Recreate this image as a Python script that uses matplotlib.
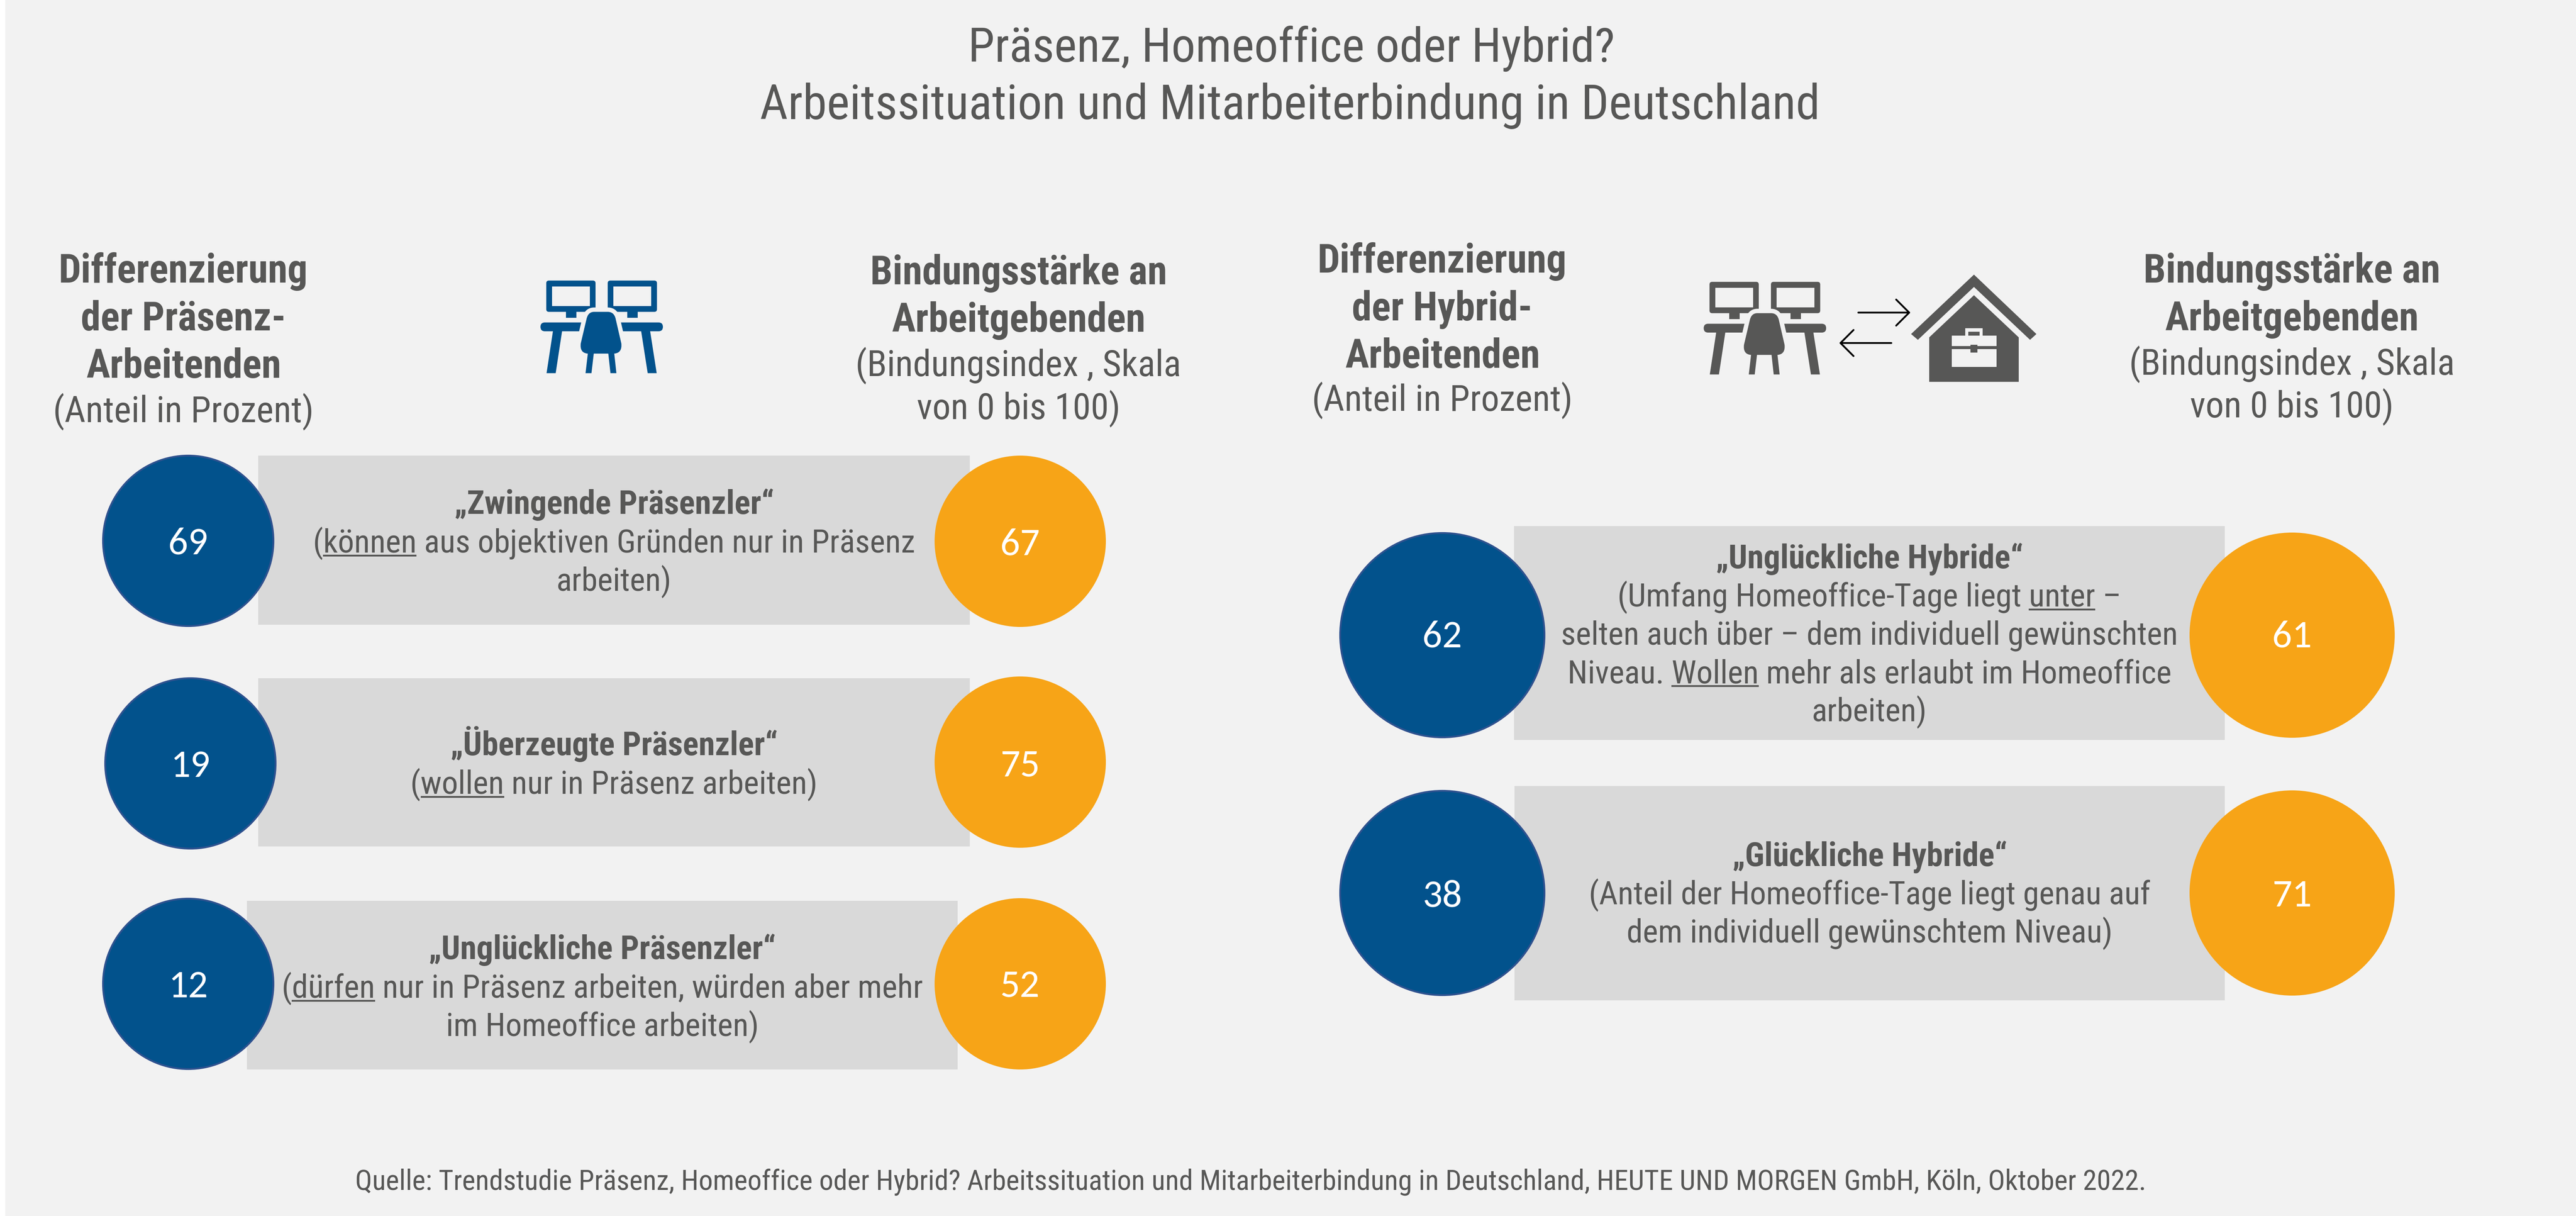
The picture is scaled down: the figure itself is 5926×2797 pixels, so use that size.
import matplotlib
matplotlib.use('Agg')
import matplotlib.pyplot as plt
from matplotlib.patches import Rectangle, Circle, Polygon, FancyBboxPatch, PathPatch
from matplotlib.path import Path

# chart values
left_shares = [69, 19, 12]
left_bonds = [67, 75, 52]
right_shares = [62, 38]
right_bonds = [61, 71]

title_lines = ["Präsenz, Homeoffice oder Hybrid?",
               "Arbeitssituation und Mitarbeiterbindung in Deutschland"]
source = ("Quelle: Trendstudie Präsenz, Homeoffice oder Hybrid? Arbeitssituation und Mitarbeiterbindung "
          "in Deutschland, HEUTE UND MORGEN GmbH, Köln, Oktober 2022.")

left_names = ["„Zwingende Präsenzler“", "„Überzeugte Präsenzler“", "„Unglückliche Präsenzler“"]
left_notes = [[("(können aus objektiven Gründen nur in Präsenz", "können"), ("arbeiten)", None)],
              [("(wollen nur in Präsenz arbeiten)", "wollen")],
              [("(dürfen nur in Präsenz arbeiten, würden aber mehr", "dürfen"), ("im Homeoffice arbeiten)", None)]]
right_names = ["„Unglückliche Hybride“", "„Glückliche Hybride“"]
right_notes = [[("(Umfang Homeoffice-Tage liegt unter –", "unter"),
                ("selten auch über – dem individuell gewünschten", None),
                ("Niveau. Wollen mehr als erlaubt im Homeoffice", "Wollen"),
                ("arbeiten)", None)],
               [("(Anteil der Homeoffice-Tage liegt genau auf", None),
                ("dem individuell gewünschtem Niveau)", None)]]

BG = '#f2f2f2'
BLUE = '#02528c'
ORANGE = '#f7a417'
BOX = '#d9d9d9'
TEXT = '#575756'
COND = ['Roboto Condensed', 'Liberation Sans Narrow', 'DejaVu Sans']
NUM = ['Carlito', 'Liberation Sans Narrow', 'DejaVu Sans']

W, H = 5926, 2797
fig = plt.figure(figsize=(W / 100, H / 100), dpi=100, facecolor='white')
ax = fig.add_axes([0, 0, 1, 1])
ax.set_xlim(0, W)
ax.set_ylim(H, 0)
ax.axis('off')
ax.add_patch(Rectangle((12, 0), W - 12, H, fc=BG, ec='none'))


def put(x, y, s, px, weight='normal', color=TEXT, family=COND):
    return ax.text(x, y, s, fontsize=px * 0.72, fontweight=weight, color=color,
                   family=family, ha='center', va='baseline')


def width(t, s=None):
    r = fig.canvas.get_renderer()
    old = t.get_text()
    if s is not None:
        t.set_text(s)
    w = t.get_window_extent(r).width
    t.set_text(old)
    return w


def note_line(x, y, s, word, px):
    t = put(x, y, s, px)
    if word:
        full = width(t)
        pre = s[:s.index(word) + len(word)]
        x1 = x - full / 2 + width(t, pre)
        x0 = x1 - width(t, word)
        ax.plot([x0, x1], [y + 7, y + 7], color=TEXT, lw=3, solid_capstyle='butt')


def row(box, cx_blue, cx_orange, cy_blue, cy_orange, r, share, bond, base_blue, base_orange,
        name, notes, y0, step):
    ax.add_patch(Rectangle((box[0], box[1]), box[2] - box[0], box[3] - box[1], fc=BOX, ec='none'))
    ax.add_patch(Circle((cx_blue, cy_blue), r - 1, fc=BLUE, ec='#2f528f', lw=3))
    ax.add_patch(Circle((cx_orange, cy_orange), r, fc=ORANGE, ec='none'))
    put(cx_blue, base_blue, str(share), 90, 'normal', 'white', NUM)
    put(cx_orange, base_orange, str(bond), 90, 'normal', 'white', NUM)
    xc = (box[0] + box[2]) / 2
    put(xc, y0, name, 76, 'bold')
    for i, (s, word) in enumerate(notes):
        note_line(xc, y0 + step * (i + 1), s, word, 74.7)


def header(x, ys, bold, light):
    for y, s in zip(ys, bold + light):
        put(x, y, s, 91.5 if s in bold else 84, 'bold' if s in bold else 'normal')


def icon(dx, dy, c):
    # shapes measured on a 3x grid, origin at 1150, 580
    def X(v):
        return 1150 + dx + v / 3

    def Y(v):
        return 580 + dy + v / 3

    def poly(pts, col=c):
        ax.add_patch(Polygon([(X(a), Y(b)) for a, b in pts], closed=True, fc=col, ec='none'))

    for x0, st in ((320, 455), (744, 878)):
        ax.add_patch(FancyBboxPatch((X(x0), Y(196)), 340 / 3, 216 / 3,
                                    boxstyle='round,pad=0,rounding_size=6', fc=c, ec='none'))
        poly([(x0 + 40, 238), (x0 + 300, 238), (x0 + 300, 371), (x0 + 40, 371)], BG)
        poly([(st, 410), (st + 72, 410), (st + 72, 453), (st, 453)])
    ax.add_patch(FancyBboxPatch((X(280), Y(485)), 845 / 3, 61 / 3,
                                boxstyle='round,pad=0,rounding_size=10', fc=c, ec='none'))
    poly([(366, 546), (429, 546), (385, 835), (322, 835)])
    poly([(975, 546), (1037, 546), (1082, 835), (1020, 835)])
    codes = [Path.MOVETO, Path.LINETO, Path.CURVE3, Path.CURVE3, Path.LINETO, Path.CURVE3, Path.CURVE3,
             Path.LINETO, Path.CURVE3, Path.CURVE3, Path.LINETO, Path.CURVE3, Path.CURVE3, Path.CLOSEPOLY]
    chair = [(650, 412), (745, 412), (790, 412), (800, 465), (838, 630), (845, 695), (790, 700),
             (605, 700), (550, 695), (558, 630), (597, 465), (607, 412), (650, 412), (650, 412)]
    ax.add_patch(PathPatch(Path([(X(a), Y(b)) for a, b in chair], codes), fc=c, ec=BG, lw=14.5,
                           joinstyle='round'))
    ax.add_patch(PathPatch(Path([(X(a), Y(b)) for a, b in chair], codes), fc=c, ec='none'))
    poly([(607, 698), (648, 698), (632, 835), (591, 835)])
    poly([(748, 698), (789, 698), (804, 835), (763, 835)])


def house():
    # measured on a grid 1.845x / 3x, origin at 3850, 600
    def pts(lst):
        return [(3850 + a / 1.845, 600 + b / 3) for a, b in lst]

    def poly(lst, col):
        ax.add_patch(Polygon(pts(lst), closed=True, fc=col, ec='none'))

    for y, xs in ((719, (4275, 4392)), (789, (4351, 4234))):
        ax.plot(xs, [y, y], color='black', lw=3, solid_capstyle='round')
        d = 30 if xs[1] < xs[0] else -30
        ax.plot([xs[1] + d, xs[1], xs[1] + d], [y - 30, y, y + 30], color='black', lw=3,
                solid_capstyle='round', solid_joinstyle='round')
    poly([(1275, 95), (1540, 505), (1513, 545), (1275, 180), (1037, 545), (1008, 505)], TEXT)
    poly([(1275, 237), (1465, 528), (1465, 835), (1085, 835), (1085, 528)], TEXT)
    poly([(1180, 517), (1370, 517), (1370, 733), (1180, 733)], BG)
    poly([(1238, 465), (1312, 465), (1312, 517), (1238, 517)], BG)
    poly([(1251, 488), (1299, 488), (1299, 517), (1251, 517)], TEXT)
    poly([(1180, 589), (1370, 589), (1370, 608), (1180, 608)], TEXT)
    poly([(1261, 578), (1289, 578), (1289, 633), (1261, 633)], TEXT)


# title
put(2971, 142, title_lines[0], 110.5)
put(2967, 274, title_lines[1], 112)

# column heads
share_bold_l = ["Differenzierung", "der Präsenz-", "Arbeitenden"]
share_bold_r = ["Differenzierung", "der Hybrid-", "Arbeitenden"]
share_note = ["(Anteil in Prozent)"]
bond_bold = ["Bindungsstärke an", "Arbeitgebenden"]
bond_note = ["(Bindungsindex , Skala", "von 0 bis 100)"]
header(422, [650, 760, 869, 971], share_bold_l, share_note)
header(2343, [654, 763, 865, 964], bond_bold, bond_note)
header(3318, [627, 737, 846, 945], share_bold_r, share_note)
header(5272, [650, 760, 862, 960], bond_bold, bond_note)

icon(0, 0, BLUE)
icon(2676, 3, TEXT)
house()

# left block
left_boxes = [(594, 1048, 2231, 1437), (594, 1560, 2231, 1947), (568, 2072, 2203, 2460)]
left_cx = [433, 438, 433]
left_cy = [1244, 1756, 2263]
left_oy = [1245, 1753, 2263]
left_bb = [1276, 1787, 2294]
left_bo = [1277, 1785, 2294]
left_y0 = [1182, 1737, 2206]
for i in range(3):
    row(left_boxes[i], left_cx[i], 2347, left_cy[i], left_oy[i], 197, left_shares[i], left_bonds[i],
        left_bb[i], left_bo[i], left_names[i], left_notes[i], left_y0[i], 88.5)

# right block
right_boxes = [(3483, 1210, 5118, 1702), (3484, 1808, 5118, 2301)]
right_cy = [1461, 2054]
right_base = [1490, 2085]
right_y0 = [1307, 1992]
for i in range(2):
    row(right_boxes[i], 3318, 5273, right_cy[i], right_cy[i], 236, right_shares[i], right_bonds[i],
        right_base[i], right_base[i], right_names[i], right_notes[i], right_y0[i], 88)

put(2877, 2736, source, 65.2)

fig.savefig('out.png', dpi=100, facecolor='white')
